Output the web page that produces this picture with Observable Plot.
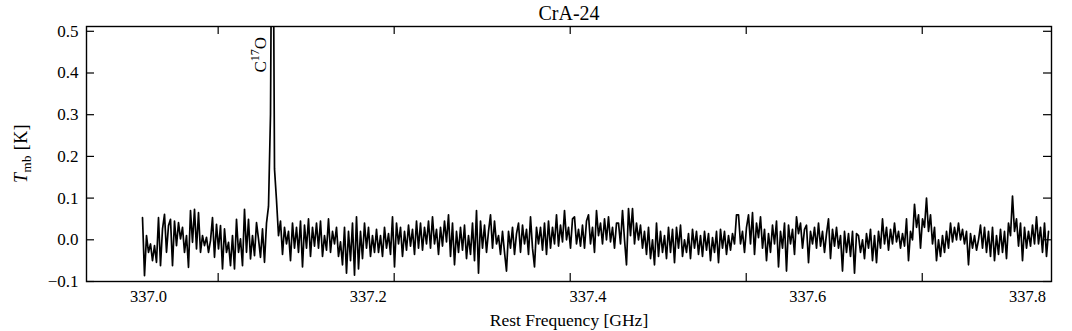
<!DOCTYPE html>
<html><head><meta charset="utf-8">
<script src="https://cdn.jsdelivr.net/npm/d3@7"></script>
<script src="https://cdn.jsdelivr.net/npm/@observablehq/plot@0.6"></script>
<style>html,body{margin:0;padding:0;background:#fff;}</style>
</head><body><div id="chart"></div>
<script>
// Spectrum: regular frequency grid (GHz) and main-beam temperature values (K)
const freqStart = 336.99454;
const freqStep = 0.00182025;
const tmbSeg1 = [0.053,-0.086,0.010,-0.030,-0.010,-0.050,-0.014,-0.054,0.053,-0.062,0.026,0.061,-0.030,0.034,0.049,-0.062,0.045,-0.014,0.041,0.002,0.030,-0.030,0.010,-0.066,0.070,-0.006,0.073,-0.022,0.065,-0.030,0.010,-0.014,0.006,-0.030,-0.002,0.053,-0.042,0.037,-0.022,0.034,-0.070,0.026,-0.030,-0.006,-0.062,0.010,-0.070,0.049,-0.030,0.002,-0.062,0.073,-0.030,0.049,-0.046,0.010,-0.038,0.041];
const tmbSeg2 = [0.002,-0.042,0.026,-0.054,0.040,0.080,0.300,1.100,0.170,0.095,0.010,0.045,-0.035,0.030,-0.010,0.020,-0.050,0.040,-0.020,0.030,-0.030,0.045,-0.065,0.035,-0.020,0.050,-0.040,0.030,-0.015,0.040,-0.020,0.045,-0.040,0.010,-0.025,0.050,-0.030,0.020,-0.010,0.030,-0.040,-0.005,-0.060,0.030,-0.080,0.020,-0.050,0.040,-0.085,0.055,-0.070,0.020,-0.045,0.040,-0.020,0.030,-0.040,0.010,-0.030,0.025];
const tmbSeg3 = [-0.030,0.010,-0.040,0.030,-0.020,0.015,-0.035,0.055,-0.065,0.040,-0.010,0.030,-0.040,0.020,-0.025,0.035,-0.015,0.025,-0.035,0.045,-0.020,0.040,-0.025,0.030,-0.010,0.045,-0.020,0.055,-0.010,0.025,-0.035,0.030,-0.015,0.045,-0.005,0.060,-0.040,0.040,-0.060,0.020,-0.030,0.030,-0.025,0.035,-0.045,0.010,-0.035,0.040,-0.050,0.070,-0.080,0.045,-0.020,0.035,-0.030,0.020,0.060,-0.020,0.045,-0.010];
const tmbSeg4 = [0.010,-0.035,0.020,-0.030,-0.075,0.020,-0.020,0.030,-0.035,0.015,0.040,-0.030,0.035,-0.010,0.025,-0.035,0.055,-0.020,-0.065,0.030,-0.010,0.030,-0.025,0.040,-0.035,0.045,-0.020,0.030,-0.010,0.060,-0.015,0.035,-0.005,0.070,0.000,0.030,-0.020,0.050,0.055,-0.010,0.025,-0.015,0.035,-0.020,0.045,0.060,-0.010,0.030,-0.030,0.070,0.010,0.040,-0.010,0.050,0.000,0.055,-0.005,0.030,-0.020,0.040];
const tmbSeg5 = [0.040,-0.010,0.070,0.000,-0.060,0.075,0.010,0.075,-0.010,0.040,0.000,0.035,-0.020,0.020,-0.035,0.030,-0.045,0.000,-0.060,0.040,-0.040,0.020,-0.030,0.010,-0.045,0.030,-0.030,0.025,-0.055,0.030,-0.020,0.035,-0.040,0.000,-0.030,0.015,-0.045,0.025,-0.020,0.020,-0.035,0.010,-0.040,0.020,-0.025,0.015,-0.050,0.005,-0.030,0.020,-0.055,0.025,-0.020,0.020,-0.035,0.010,-0.025,0.015,-0.010,0.060];
const tmbSeg6 = [0.060,-0.010,0.020,-0.030,0.030,0.060,-0.010,0.065,-0.035,0.040,0.005,0.055,-0.020,0.025,-0.050,0.015,-0.030,0.035,-0.010,0.045,-0.065,0.020,-0.020,0.040,-0.075,0.035,-0.010,0.025,-0.035,0.055,0.015,0.040,-0.020,0.025,0.035,-0.055,0.020,-0.010,0.030,-0.020,0.040,-0.015,0.020,-0.030,0.015,0.050,-0.045,0.025,-0.015,0.030,-0.020,0.010,-0.075,0.020,-0.030,0.015,-0.040,0.020,-0.080,0.015];
const tmbSeg7 = [0.010,-0.030,0.000,-0.045,0.015,-0.020,0.025,-0.050,0.010,-0.055,0.020,-0.020,0.050,-0.010,0.030,-0.025,0.025,-0.010,0.040,-0.005,0.020,-0.020,0.015,-0.015,0.050,-0.050,0.020,0.000,0.085,0.030,0.060,-0.020,0.050,0.030,0.100,0.020,0.060,-0.010,0.030,-0.050,0.000,-0.040,0.010,-0.030,0.020,-0.020,0.040,-0.005,0.030,0.000,0.040,0.000,0.025,-0.010,0.020,-0.060,0.015,-0.020,0.010,-0.025];
const tmbSeg8 = [0.000,0.035,-0.020,0.030,-0.030,0.020,-0.040,0.030,-0.050,0.010,-0.035,0.025,-0.030,0.020,-0.045,0.040,0.010,0.105,0.020,0.050,-0.015,0.040,-0.050,0.030,-0.020,0.020,-0.015,0.035,-0.010,0.055,-0.010,0.030,-0.030,0.040,-0.040,0.020];
const tmb = [].concat(tmbSeg1, tmbSeg2, tmbSeg3, tmbSeg4, tmbSeg5, tmbSeg6, tmbSeg7, tmbSeg8);
const spectrum = tmb.map((t, i) => ({freq: freqStart + i * freqStep, tmb: t}));

// Axes
const xDomain = [336.94357, 337.82184];
const yDomain = [-0.1, 0.5115];
const xTickLabels = [337.0, 337.2, 337.4, 337.6, 337.8];
const xTickMarks = [337.0634, 337.2236, 337.3838, 337.5440, 337.7042];
const yTicks = [-0.1, 0.0, 0.1, 0.2, 0.3, 0.4, 0.5];

// Texts
const titleText = "CrA-24";
const xLabelText = "Rest Frequency [GHz]";
const lineLabel = {freq: 337.1074, tmb: 0.40};

const W = 1072, H = 331, mT = 26, mB = 50, mL = 86, mR = 21;
const plotW = W - mL - mR, plotH = H - mT - mB, tickLen = 8;
const font = "Liberation Serif";
const fmt1 = d3.format(".1f");

const plot = Plot.plot({
  width: W,
  height: H,
  marginTop: mT,
  marginBottom: mB,
  marginLeft: mL,
  marginRight: mR,
  style: {fontFamily: font, fontSize: "16.5px", background: "white", color: "black", overflow: "visible"},
  x: {domain: xDomain, axis: null},
  y: {domain: yDomain, axis: null},
  marks: [
    Plot.line(spectrum, {x: "freq", y: "tmb", stroke: "black", strokeWidth: 1.7, clip: true}),
    // inward ticks
    Plot.tickY(yTicks, {y: d => d, insetRight: plotW - tickLen, stroke: "black", strokeWidth: 1.2}),
    Plot.tickY(yTicks, {y: d => d, insetLeft: plotW - tickLen, stroke: "black", strokeWidth: 1.2}),
    Plot.tickX(xTickMarks, {x: d => d, insetTop: plotH - tickLen, stroke: "black", strokeWidth: 1.2}),
    Plot.tickX(xTickMarks, {x: d => d, insetBottom: plotH - tickLen, stroke: "black", strokeWidth: 1.2}),
    // tick labels
    Plot.axisY(yTicks, {anchor: "left", tickSize: 0, tickPadding: 8, tickFormat: fmt1, label: null, fontSize: 17}),
    Plot.axisX(xTickLabels, {anchor: "bottom", tickSize: 0, tickPadding: 9, tickFormat: fmt1, label: null, fontSize: 16.5}),
    Plot.frame({stroke: "black", strokeWidth: 1.4}),
    Plot.text([titleText], {frameAnchor: "top", dy: -13, lineAnchor: "middle", fontSize: 20, fill: "black", letterSpacing: "0.6px"}),
    Plot.text([xLabelText], {frameAnchor: "bottom", dy: 39, lineAnchor: "middle", fontSize: 17.5, fill: "black", letterSpacing: "0.8px"})
  ]
});

// Rich-text labels (italic / subscript / superscript)
const svg = d3.select(plot);
const yl = svg.append("text")
  .attr("transform", `translate(27,153.5) rotate(-90)`)
  .attr("text-anchor", "middle")
  .attr("font-family", font).attr("font-size", 18).attr("fill", "black")
  .attr("letter-spacing", "0.4px");
yl.append("tspan").attr("font-style", "italic").text("T");
yl.append("tspan").attr("font-size", 13).attr("dy", 4).text("mb");
yl.append("tspan").attr("dy", -4).text("\u00a0[K]");

const xs = plot.scale("x").apply(lineLabel.freq);
const ys = plot.scale("y").apply(lineLabel.tmb);
const cl = svg.append("text")
  .attr("transform", `translate(${xs},${ys}) rotate(-90)`)
  .attr("text-anchor", "start")
  .attr("font-family", font).attr("font-size", 17).attr("fill", "black");
cl.append("tspan").text("C");
cl.append("tspan").attr("font-size", 12).attr("dy", -7).text("17");
cl.append("tspan").attr("dy", 7).text("O");

document.getElementById("chart").appendChild(plot);
</script>
</body></html>
